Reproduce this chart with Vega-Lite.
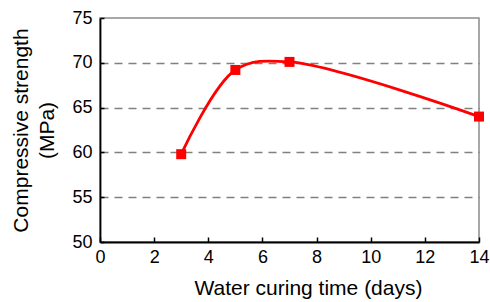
{
  "$schema": "https://vega.github.io/schema/vega-lite/v6.json",
  "width": 379,
  "height": 224,
  "autosize": {"type": "none"},
  "padding": {"left": 100, "top": 18, "right": 11, "bottom": 60},
  "background": "white",
  "config": {
    "font": "Liberation Sans",
    "view": {"stroke": "#8c8c8c", "strokeWidth": 1.5},
    "axis": {
      "labelFont": "Liberation Sans",
      "titleFont": "Liberation Sans",
      "labelFontSize": 18,
      "titleFontSize": 21,
      "labelColor": "black",
      "titleColor": "black",
      "titleFontWeight": "normal",
      "domainColor": "black",
      "domainWidth": 1.8,
      "tickColor": "black",
      "tickWidth": 1.5
    }
  },
  "data": {
    "values": [
      {"days": 3, "strength": 59.8},
      {"days": 5, "strength": 69.2},
      {"days": 7, "strength": 70.1},
      {"days": 14, "strength": 64.0}
    ]
  },
  "layer": [
    {
      "mark": {"type": "line", "interpolate": "catmull-rom", "color": "#ff0000", "strokeWidth": 2.8},
      "encoding": {
        "x": {
          "field": "days", "type": "quantitative",
          "scale": {"domain": [0, 14], "nice": false},
          "axis": {
            "values": [0, 2, 4, 6, 8, 10, 12, 14],
            "title": "Water curing time (days)",
            "grid": false,
            "tickSize": -5,
            "labelPadding": 11,
            "labelFlush": false,
            "titlePadding": 11,
            "titleX": 208,
            "titleAnchor": null
          }
        },
        "y": {
          "field": "strength", "type": "quantitative",
          "scale": {"domain": [50, 75], "nice": false, "zero": false},
          "axis": {
            "values": [50, 55, 60, 65, 70, 75],
            "title": ["Compressive strength", "(MPa)"],
            "grid": true,
            "gridDash": [8, 6],
            "gridColor": "#808080",
            "gridWidth": 1.5,
            "gridOpacity": {"condition": {"test": "datum.value == 50 || datum.value == 75", "value": 0}, "value": 1},
            "tickSize": -4,
            "labelPadding": 12,
            "labelFlush": false,
            "titlePadding": 14,
            "titleLineHeight": 26
          }
        }
      }
    },
    {
      "mark": {"type": "square", "color": "#ff0000", "opacity": 1, "filled": true, "size": 100},
      "encoding": {
        "x": {"field": "days", "type": "quantitative"},
        "y": {"field": "strength", "type": "quantitative"}
      }
    }
  ]
}
